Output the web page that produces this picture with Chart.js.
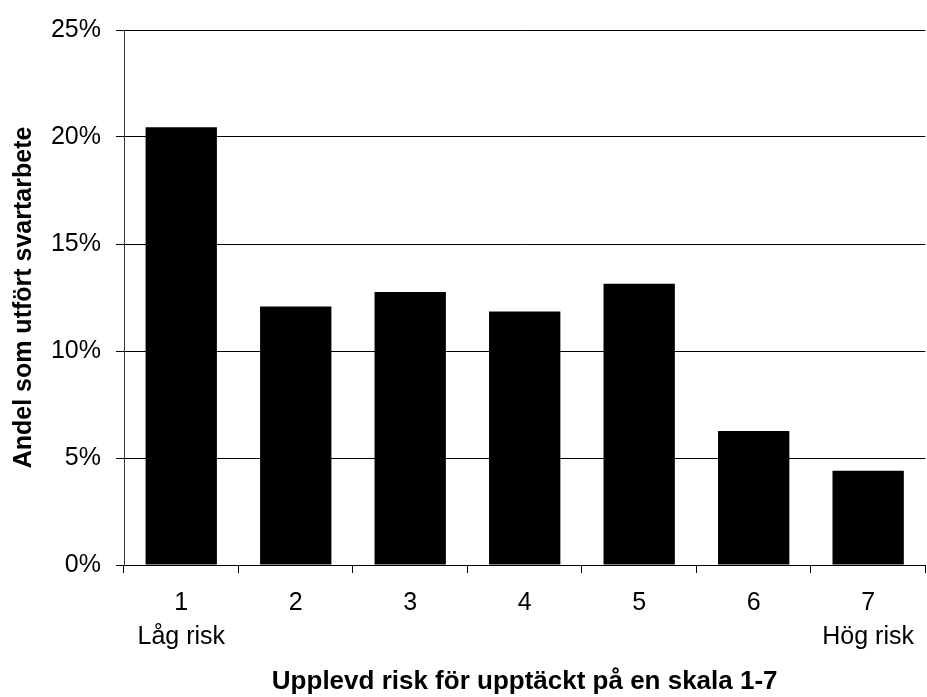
<!DOCTYPE html>
<html>
<head>
<meta charset="utf-8">
<script src="https://cdn.jsdelivr.net/npm/chart.js@4"></script>
<style>
  html, body { margin: 0; padding: 0; background: #fff; }
  #wrap { width: 927px; height: 697px; position: relative; }
</style>
</head>
<body>
<div id="wrap"><canvas id="c" width="927" height="697"></canvas></div>
<script>
const categories = [["1", "Låg risk"], "2", "3", "4", "5", "6", ["7", "Hög risk"]];
const shareValues = [20.45, 12.08, 12.76, 11.84, 13.14, 6.26, 4.40];
const yTickValues = [0, 5, 10, 15, 20, 25];
const xTitle = "Upplevd risk för upptäckt på en skala 1-7";
const yTitle = "Andel som utfört svartarbete";

const FONT = "'Liberation Sans', Arial, Helvetica, sans-serif";

new Chart(document.getElementById('c'), {
  type: 'bar',
  data: {
    labels: categories,
    datasets: [{
      data: shareValues,
      backgroundColor: '#000000',
      borderWidth: 0,
      barPercentage: 0.623,
      categoryPercentage: 1.0
    }]
  },
  options: {
    responsive: false,
    animation: false,
    devicePixelRatio: 1,
    layout: { padding: { top: 27, left: 0, right: 0, bottom: 0 } },
    plugins: {
      legend: { display: false },
      tooltip: { enabled: false },
      title: { display: false }
    },
    scales: {
      x: {
        offset: true,
        grid: {
          offset: true,
          drawOnChartArea: false,
          drawTicks: true,
          tickLength: 8,
          color: '#000000',
          lineWidth: 1
        },
        border: { display: true, color: '#000000', width: 1 },
        ticks: {
          color: '#000000',
          padding: 13,
          maxRotation: 0,
          autoSkip: false,
          font: { family: FONT, size: 25, lineHeight: 1.37 }
        },
        title: {
          display: true,
          text: xTitle,
          color: '#000000',
          padding: { top: 0, bottom: 0 },
          font: { family: FONT, size: 26, weight: 'bold', lineHeight: 1.15 }
        },
        afterFit: function (scale) { scale.height = 132; }
      },
      y: {
        min: 0,
        max: 25,
        afterBuildTicks: function (scale) {
          scale.ticks = yTickValues.map(v => ({ value: v }));
        },
        grid: {
          drawOnChartArea: true,
          drawTicks: true,
          tickLength: 8,
          color: '#000000',
          lineWidth: 1
        },
        border: { display: true, color: '#333333', width: 1 },
        ticks: {
          color: '#000000',
          padding: 15,
          font: { family: FONT, size: 25 },
          callback: function (v) { return v + '%'; }
        },
        title: {
          display: true,
          text: yTitle,
          color: '#000000',
          align: 'center',
          padding: { top: 9, bottom: 0 },
          font: { family: FONT, size: 25, weight: 'bold', lineHeight: 1.2 }
        },
        afterFit: function (scale) { scale.width = 124; }
      }
    }
  }
});
</script>
</body>
</html>
